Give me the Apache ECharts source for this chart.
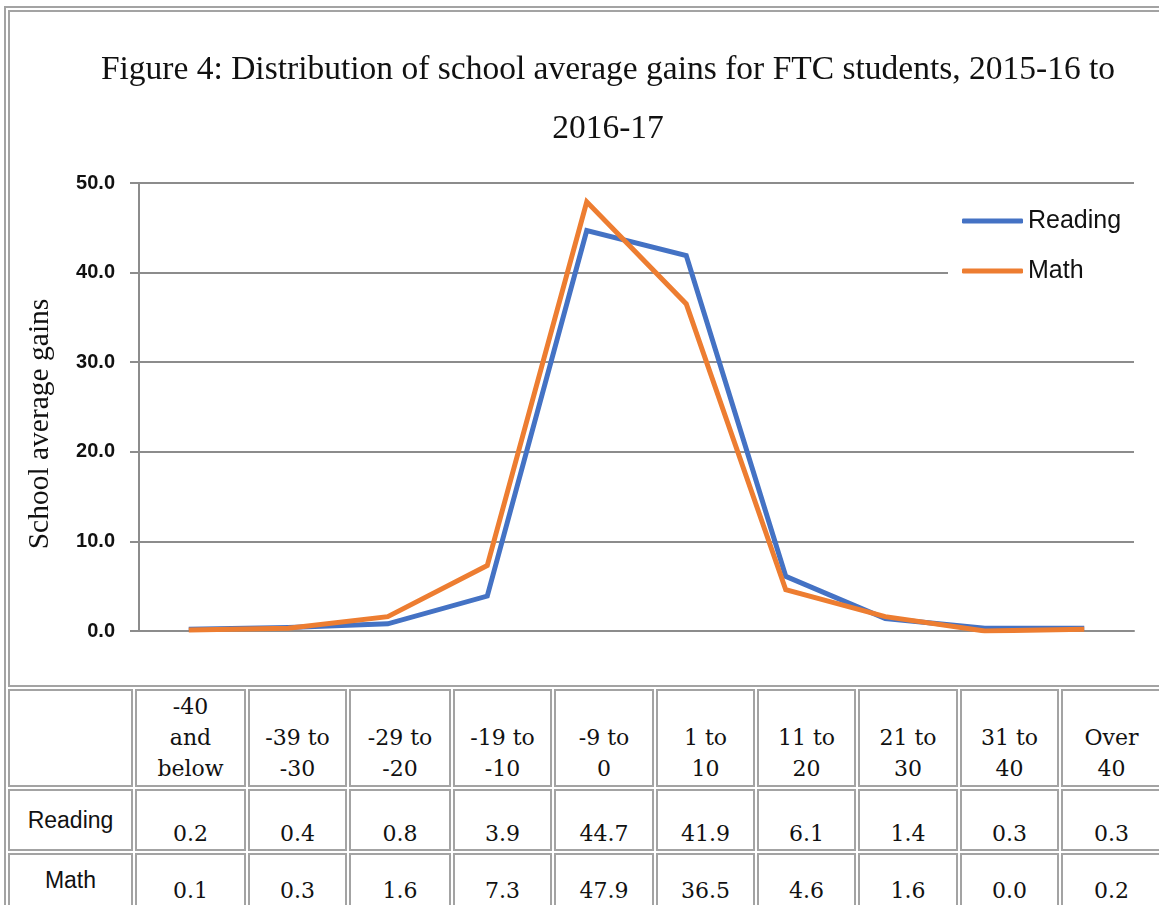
<!DOCTYPE html>
<html>
<head>
<meta charset="utf-8">
<script src="https://cdn.jsdelivr.net/npm/echarts@6/dist/echarts.min.js"></script>
<style>
  html, body { margin: 0; padding: 0; width: 1159px; height: 905px; overflow: hidden; background: #fff; }
  #frame { position: absolute; left: 4px; top: 6px; width: 1170px; height: 920px; border: 2px solid #a3a3a3; box-sizing: border-box; }
  .cell { position: absolute; border: 2px solid #a3a3a3; box-sizing: border-box; background: #fff; }
  .hdr { display: flex; align-items: flex-end; justify-content: center; text-align: center; padding-bottom: 1px;
         font-family: "DejaVu Serif", serif; font-size: 22px; line-height: 31px; color: #111; }
  .rowlab { display: flex; align-items: center; justify-content: center;
            font-family: "Liberation Sans", Arial, sans-serif; font-size: 23px; color: #111; }
  .val { display: flex; align-items: flex-end; justify-content: center; padding-bottom: 2px;
         font-family: "DejaVu Serif", serif; font-size: 22px; line-height: 26px; color: #111; }
  #chart { position: absolute; left: 0; top: 0; width: 1159px; height: 905px; z-index: 5; }
</style>
</head>
<body>
<div id="frame"></div>
<div id="table"></div>
<div id="chart"></div>
<script>
// ---- data ----
const categories = ["-40 and below", "-39 to -30", "-29 to -20", "-19 to -10", "-9 to 0",
                    "1 to 10", "11 to 20", "21 to 30", "31 to 40", "Over 40"];
const headerLabels = ["-40\nand\nbelow", "-39 to\n-30", "-29 to\n-20", "-19 to\n-10", "-9 to\n0",
                      "1 to\n10", "11 to\n20", "21 to\n30", "31 to\n40", "Over\n40"];
const readingValues = [0.2, 0.4, 0.8, 3.9, 44.7, 41.9, 6.1, 1.4, 0.3, 0.3];
const mathValues = [0.1, 0.3, 1.6, 7.3, 47.9, 36.5, 4.6, 1.6, 0.0, 0.2];
const seriesNames = ["Reading", "Math"];
const titleText = "Figure 4: Distribution of school average gains for FTC students, 2015-16 to\n2016-17";
const yAxisTitle = "School average gains";

// ---- table layout (HTML) ----
const colWidths = [125, 111, 99, 102, 99, 100, 99, 99, 100, 99, 101];
const spacing = 2;
const tableLeft = 8, chartTop = 10, chartHeight = 677;
const rowHeights = [98, 62, 55];
const table = document.getElementById('table');
function addCell(x, y, w, h, cls, html) {
  const d = document.createElement('div');
  d.className = 'cell ' + (cls || '');
  d.style.left = x + 'px'; d.style.top = y + 'px';
  d.style.width = w + 'px'; d.style.height = h + 'px';
  if (html !== undefined) d.innerHTML = html;
  table.appendChild(d);
}
let totalW = colWidths.reduce((a, b) => a + b, 0) + spacing * (colWidths.length - 1);
addCell(tableLeft, chartTop, totalW, chartHeight, '');
const colLefts = [];
let cx = tableLeft;
colWidths.forEach(w => { colLefts.push(cx); cx += w + spacing; });
let ry = chartTop + chartHeight + spacing;
const rows = [
  ['', headerLabels, 'hdr'],
  [seriesNames[0], readingValues.map(v => v.toFixed(1)), 'val'],
  [seriesNames[1], mathValues.map(v => v.toFixed(1)), 'val']
];
rows.forEach((r, ri) => {
  const h = rowHeights[ri];
  addCell(colLefts[0], ry, colWidths[0], h, ri === 0 ? 'hdr' : 'rowlab', r[0]);
  r[1].forEach((t, ci) => {
    addCell(colLefts[ci + 1], ry, colWidths[ci + 1], h, r[2], String(t).replace(/\n/g, '<br>'));
  });
  ry += h + spacing;
});

// ---- chart ----
const chart = echarts.init(document.getElementById('chart'), null, { renderer: 'canvas' });
const gray = '#8c8c8c';
chart.setOption({
  backgroundColor: 'transparent',
  animation: false,
  title: {
    text: titleText,
    left: 603,
    top: 36,
    textAlign: 'center',
    textStyle: { fontFamily: '"Liberation Serif", "Times New Roman", serif', fontSize: 33.5, fontWeight: 'normal', lineHeight: 59, color: '#111' }
  },
  graphic: [{
    type: 'text',
    x: 40, y: 424,
    rotation: Math.PI / 2,
    style: {
      text: yAxisTitle,
      x: 0, y: 0,
      align: 'center', verticalAlign: 'middle',
      font: '29.5px "Liberation Serif", "Times New Roman", serif',
      fill: '#111'
    },
    z: 10
  }],
  legend: {
    data: seriesNames,
    orient: 'vertical',
    left: 948,
    top: 202,
    padding: [5, 18, 5, 14],
    backgroundColor: '#ffffff',
    icon: 'roundRect',
    itemWidth: 61,
    itemHeight: 5,
    itemGap: 22,
    textStyle: { fontFamily: '"Liberation Sans", Arial, sans-serif', fontSize: 25, color: '#111', lineHeight: 28 }
  },
  grid: { left: 139, right: 25, top: 183, bottom: 274, containLabel: false },
  xAxis: {
    type: 'category',
    data: categories,
    boundaryGap: true,
    axisLine: { show: true, lineStyle: { color: gray, width: 2 } },
    axisTick: { show: false },
    axisLabel: { show: false },
    splitLine: { show: false }
  },
  yAxis: {
    type: 'value',
    min: 0, max: 50, interval: 10,
    axisLine: { show: true, lineStyle: { color: gray, width: 2 } },
    axisTick: { show: true, length: 9, lineStyle: { color: gray, width: 2 } },
    axisLabel: { margin: 24, formatter: v => v.toFixed(1), fontFamily: '"Liberation Sans", Arial, sans-serif', fontSize: 20, fontWeight: 'bold', color: '#111' },
    splitLine: { show: true, lineStyle: { color: gray, width: 2 } }
  },
  series: [
    { name: seriesNames[0], type: 'line', data: readingValues, symbol: 'none', color: '#4472C4',
      lineStyle: { width: 5, color: '#4472C4', join: 'miter', cap: 'butt' } },
    { name: seriesNames[1], type: 'line', data: mathValues, symbol: 'none', color: '#ED7D31',
      lineStyle: { width: 5, color: '#ED7D31', join: 'miter', cap: 'butt' } }
  ]
});
</script>
</body>
</html>
